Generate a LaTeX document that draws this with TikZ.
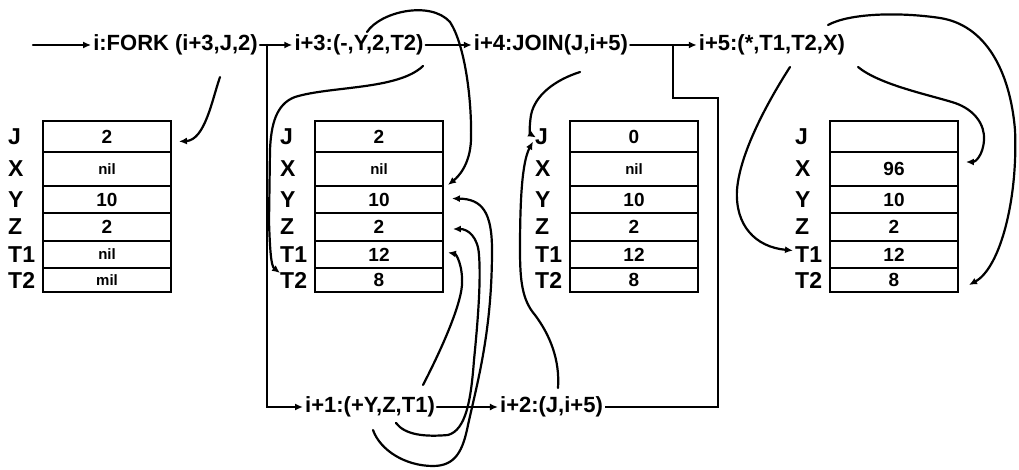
\documentclass[tikz,border=0pt]{standalone}
\usepackage{fontspec}
\setmainfont{Liberation Sans}
\usetikzlibrary{arrows.meta}
\tikzset{
  instr/.style={font=\fontsize{22}{22}\selectfont\bfseries, inner sep=2pt},
  cell/.style={draw, line width=1.9pt, minimum width=128pt, inner sep=0pt,
    font=\fontsize{19}{19}\selectfont\bfseries},
  lab/.style={anchor=west, inner sep=0pt, font=\fontsize{23}{23}\selectfont\bfseries},
  conn/.style={line width=2.2pt, line cap=round, -{Latex[length=8pt,width=7pt]}},
  wire/.style={line width=2.2pt},
}
\newcommand\nilv{{\fontsize{15}{15}\selectfont nil}}
\newcommand\milv{{\fontsize{15}{15}\selectfont mil}}
\newcommand\regbox[8]{%
  \foreach \r/\yc/\h/\v in {J/136.5/31/{#3},X/169/34/{#4},Y/199.5/27/{#5},Z/227/28/{#6},T1/254.5/27/{#7},T2/280/24/{#8}}{%
    \node[cell, minimum height=\h pt] (#1\r) at (#2+64,\yc) {\v};
    \node[lab] (#1l\r) at (#2-35,\yc) {\r};
  }%
}
\begin{document}
\begin{tikzpicture}[x=1pt,y=-1pt]
\useasboundingbox (0,0) rectangle (1019,470);

% registers
\regbox{a}{43}{2}{\nilv}{10}{2}{\nilv}{\milv}
\regbox{b}{315}{2}{\nilv}{10}{2}{12}{8}
\regbox{c}{570}{0}{\nilv}{10}{2}{12}{8}
\regbox{d}{830}{}{96}{10}{2}{12}{8}

% instructions
\node[instr] (fork) at (175.5,45) {i:FORK (i+3,J,2)};
\node[instr] (i3) at (359,45) {i+3:(-,Y,2,T2)};
\node[instr] (i4) at (551,45) {i+4:JOIN(J,i+5)};
\node[instr] (i5) at (772,45) {i+5:(*,T1,T2,X)};
\node[instr] (i1) at (370,407) {i+1:(+Y,Z,T1)};
\node[instr] (i2) at (551.5,407) {i+2:(J,i+5)};

% control flow
\coordinate (s0) at (33,45);
\coordinate (t1) at (267,45);
\coordinate (t2) at (673,45);
\coordinate (k1) at (718,98);
\draw[conn] (s0) -- (fork.west);
\draw[conn] (fork.east) -- (i3.west);
\draw[conn] (t1) |- (i1.west);
\draw[conn] (i3.east) -- (i4.west);
\draw[conn] (i4.east) -- (i5.west);
\draw[conn] (i1.east) -- (i2.west);
\draw[wire] (i2.east) -| (k1) -| (t2);

% data flow
\coordinate (c1s) at (220,77);
\draw[conn] (c1s) .. controls (212,100) and (205,140) .. ([xshift=7pt,yshift=-5pt]aJ.east);

\coordinate (c2s) at (423,66);
\draw[conn] (c2s) .. controls (398,90) and (330,86) .. (295,97)
  .. controls (276,104) and (271,125) .. (270,150) -- (269,222)
  .. controls (270,250) and (271,266) .. ([yshift=7pt]blT2.west);

\coordinate (c3s) at (367,32);
\draw[conn] (c3s) .. controls (380,12) and (430,0) .. (450,22)
  .. controls (465,45) and (472,100) .. (471,140)
  .. controls (470,165) and (458,177) .. ([xshift=4pt,yshift=2pt]bX.south east);

\coordinate (c4s) at (373,430);
\draw[conn] (c4s) .. controls (380,450) and (405,466) .. (433,466)
  .. controls (456,466) and (463,450) .. (468,425)
  .. controls (478,380) and (492,330) .. (492,250)
  .. controls (492,212) and (482,199) .. ([xshift=8pt,yshift=1pt]bY.east);

\coordinate (c5s) at (396,423);
\draw[conn] (c5s) .. controls (405,435) and (425,437) .. (448,435)
  .. controls (466,430) and (471,400) .. (474,360)
  .. controls (478,320) and (481,280) .. (479,255)
  .. controls (478,237) and (468,229) .. ([xshift=9pt,yshift=-2pt]bZ.east);

\coordinate (c6s) at (423,385);
\draw[conn] (c6s) .. controls (436,360) and (460,310) .. (462,285)
  .. controls (463,265) and (456,254) .. ([xshift=4pt,yshift=2pt]bT1.east);

\coordinate (c7s) at (580,72);
\draw[conn] (c7s) .. controls (555,80) and (535,95) .. (531,115)
  .. controls (529,128) and (530,134) .. ([xshift=1pt,yshift=-1pt]clJ.west);

\coordinate (c8s) at (558,388);
\draw[conn] (c8s) .. controls (560,360) and (550,335) .. (535,315)
  .. controls (522,300) and (520,280) .. (520,250)
  .. controls (520,200) and (522,162) .. ([xshift=-2pt,yshift=-5pt]clJ.west);

\coordinate (c9s) at (790,67);
\draw[conn] (c9s) .. controls (772,95) and (740,150) .. (737,190)
  .. controls (735,225) and (755,247) .. ([xshift=-2pt,yshift=4pt]dlT1.west);

\coordinate (c10s) at (858,67);
\draw[conn] (c10s) .. controls (880,85) and (930,95) .. (955,103)
  .. controls (975,110) and (985,125) .. (984,140)
  .. controls (983,156) and (975,162) .. ([xshift=7pt,yshift=7pt]dX.east);

\coordinate (c11s) at (828,25);
\draw[conn] (c11s) .. controls (850,13) and (900,12) .. (940,18)
  .. controls (985,25) and (1010,70) .. (1015,130)
  .. controls (1018,200) and (1000,268) .. ([xshift=10pt,yshift=-5pt]dT2.east);
\end{tikzpicture}
\end{document}
